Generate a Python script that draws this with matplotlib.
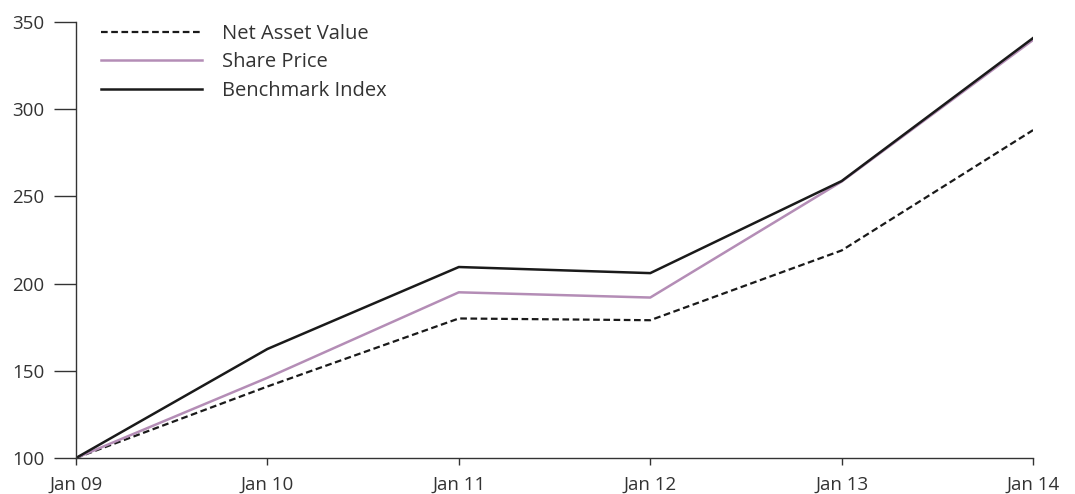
import matplotlib
matplotlib.use('Agg')
import matplotlib.pyplot as plt

years = ['Jan 09', 'Jan 10', 'Jan 11', 'Jan 12', 'Jan 13', 'Jan 14']
nav = [100, 141, 180, 179, 219, 288]
share_price = [100, 146, 195, 192, 258.5, 339.7]
benchmark = [100, 162.5, 209.5, 206, 258.8, 340.8]

plt.rcParams['font.family'] = ['Open Sans', 'DejaVu Sans']

fig = plt.figure(figsize=(10.75, 4.94), dpi=100)
ax = fig.add_axes([0.0707, 0.0729, 0.8903, 0.8826])

x = list(range(len(years)))
ax.plot(x, nav, color='#1a1a1a', lw=1.6, ls=(0, (3, 1.6)), label='Net Asset Value')
ax.plot(x, share_price, color='#b48db6', lw=1.8, label='Share Price')
ax.plot(x, benchmark, color='#1a1a1a', lw=1.8, label='Benchmark Index')

ax.set_xlim(0, 5)
ax.set_ylim(100, 350)
ax.set_xticks(x)
ax.set_xticklabels(years)
ax.set_yticks([100, 150, 200, 250, 300, 350])

for s in ['top', 'right']:
    ax.spines[s].set_visible(False)
for s in ['left', 'bottom']:
    ax.spines[s].set_color('#333333')
    ax.spines[s].set_linewidth(1.0)

ax.tick_params(axis='y', length=16, width=1.0, color='#333333', labelsize=13.5,
               labelcolor='#333333', pad=7)
ax.tick_params(axis='x', length=5, width=1.0, color='#333333', labelsize=13.5,
               labelcolor='#333333', pad=8)

leg = ax.legend(loc='upper left', frameon=False, fontsize=14.5, handlelength=5.0,
                handletextpad=1.0, labelspacing=0.42, bbox_to_anchor=(0.007, 1.037))
for t in leg.get_texts():
    t.set_color('#333333')

fig.savefig('out.png', dpi=100)
